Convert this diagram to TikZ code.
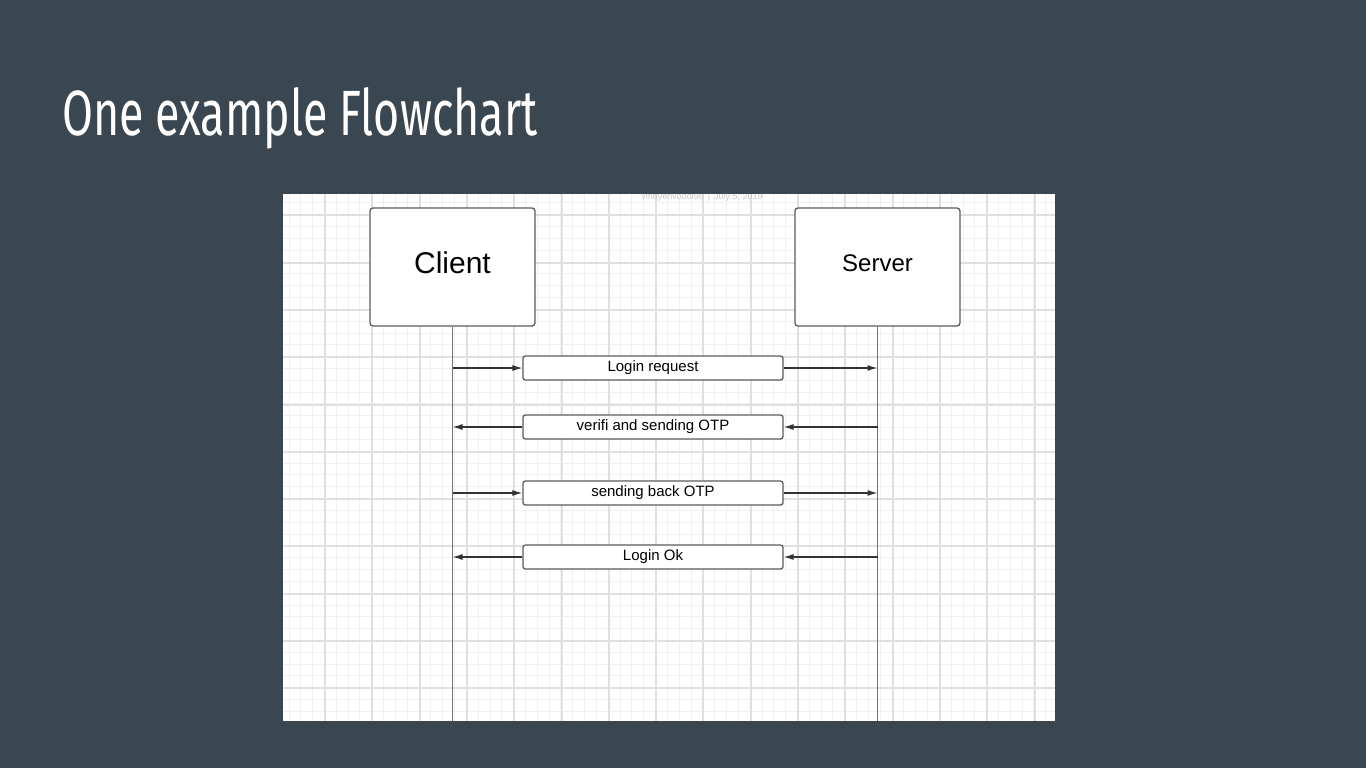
\documentclass[tikz,border=0pt]{standalone}
\usepackage{fontspec}
\setmainfont{Liberation Sans}
\newfontfamily\titlefont{Fira Sans}
\usepackage{graphicx}
\usetikzlibrary{arrows.meta}
\definecolor{slate}{HTML}{3A4650}
\definecolor{gridminor}{HTML}{F1F1F1}
\definecolor{gridmajor}{HTML}{E0E0E0}
\definecolor{edgegray}{HTML}{5C5C5C}

\begin{document}
\begin{tikzpicture}[x=1pt,y=-1pt,
  actor/.style={draw=edgegray,line width=1.3pt,fill=white,rounded corners=3pt,
    minimum width=165pt,minimum height=118pt,inner sep=0pt},
  msgbox/.style={draw=edgegray,line width=1.3pt,fill=white,rounded corners=2.5pt,
    minimum width=260pt,minimum height=24pt,inner sep=0pt,
    text height=11pt,text depth=3.6pt,font=\fontsize{15}{18}\selectfont},
  life/.style={draw=black!55,line width=1.8pt},
  msg/.style={draw=black!80,line width=1.2pt,-{Latex[length=10pt,width=6pt]}}]
%%Background
\fill[slate] (0,0) rectangle (1366,768);
\useasboundingbox (0,0) rectangle (1366,768);
%%Title
\node[anchor=base west,text=white,inner sep=0pt] (title) at (62,135)
  {\scalebox{0.70}[1]{\titlefont\fontsize{64}{70}\selectfont One example Flowchart}};
%%Paper
\begin{scope}
\clip (283,194) rectangle (1055,721);
\fill[white] (283,194) rectangle (1055,721);
%% minor grid
\foreach \k in {-3,...,62} {
  \pgfmathsetmacro{\gx}{round(324+11.825*\k)+0.5}
  \draw[gridminor,line width=1pt] (\gx,194) -- (\gx,721);
}
\foreach \k in {-2,...,43} {
  \pgfmathsetmacro{\gy}{round(214.3+11.825*\k)+0.5}
  \draw[gridminor,line width=1pt] (283,\gy) -- (1055,\gy);
}
%% major grid
\foreach \k in {-1,...,15} {
  \pgfmathsetmacro{\gx}{round(324+47.3*\k)+1}
  \draw[gridmajor,line width=2pt] (\gx,194) -- (\gx,721);
}
\foreach \k in {0,...,10} {
  \pgfmathsetmacro{\gy}{round(214.3+47.3*\k)+1}
  \draw[gridmajor,line width=2pt] (283,\gy) -- (1055,\gy);
}
\node[text=black!22,font=\fontsize{9}{10}\selectfont] (stamp) at (702,197)
  {vinhyenvodoi98 \,\textbar\, July 5, 2019};
\end{scope}
\coordinate (bottom) at (0,721);

%%Actors
\node[actor,text depth=9pt] (client) at (452.5,267) {\fontsize{30}{36}\selectfont Client};
\node[actor,text depth=7pt] (server) at (877.5,267) {\fontsize{24}{29}\selectfont Server};
\draw[life] (client.south) -- (client.south |- bottom);
\draw[life] (server.south) -- (server.south |- bottom);

%%Messages
\node[msgbox] (login) at (653,368) {Login request};
\node[msgbox] (otp) at (653,427) {verifi and sending OTP};
\node[msgbox] (back) at (653,493) {sending back OTP};
\node[msgbox] (ok) at (653,557) {Login Ok};

\draw[msg] (login.west -| client.south) -- (login.west);
\draw[msg] (login.east) -- (login.east -| server.south);
\draw[msg] (otp.east -| server.south) -- (otp.east);
\draw[msg] (otp.west) -- (otp.west -| client.south);
\draw[msg] (back.west -| client.south) -- (back.west);
\draw[msg] (back.east) -- (back.east -| server.south);
\draw[msg] (ok.east -| server.south) -- (ok.east);
\draw[msg] (ok.west) -- (ok.west -| client.south);

\end{tikzpicture}
\end{document}
